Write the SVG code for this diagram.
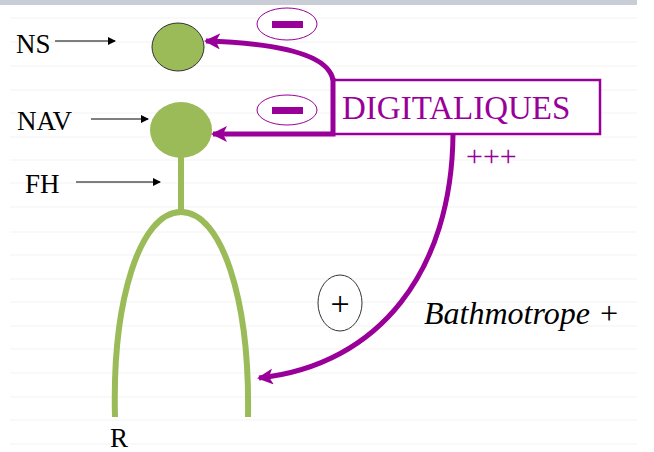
<svg xmlns="http://www.w3.org/2000/svg" width="654" height="452" viewBox="0 0 654 452">
<defs>
<style>
.rule{stroke:#f3f3f3;stroke-width:1}
.thin{stroke:#000;stroke-width:1;fill:none}
.conn{stroke:#990099;stroke-width:5;fill:none}
.green{stroke:#9bbb59;stroke-width:6;fill:none}
</style>
<marker id="ah" markerWidth="8" markerHeight="8" refX="7" refY="4" orient="auto" markerUnits="userSpaceOnUse"><path d="M0,0 L8,4 L0,8 Z" fill="#000"/></marker>
<marker id="ph" markerWidth="16" markerHeight="16" refX="14" refY="8" orient="auto" markerUnits="userSpaceOnUse"><path d="M0,0 L16,8 L0,16 L4,8 Z" fill="#990099"/></marker>
</defs>
<rect width="654" height="452" fill="#fff"/>
<rect x="0" y="0" width="637" height="5" fill="#c9cdd5"/>
<g id="rules">
<line class="rule" x1="10" y1="18" x2="637" y2="18"/>
<line class="rule" x1="10" y1="42" x2="637" y2="42"/>
<line class="rule" x1="10" y1="66" x2="637" y2="66"/>
<line class="rule" x1="10" y1="90" x2="637" y2="90"/>
<line class="rule" x1="10" y1="113" x2="637" y2="113"/>
<line class="rule" x1="10" y1="137" x2="637" y2="137"/>
<line class="rule" x1="10" y1="160" x2="637" y2="160"/>
<line class="rule" x1="10" y1="183" x2="637" y2="183"/>
<line class="rule" x1="10" y1="207" x2="637" y2="207"/>
<line class="rule" x1="10" y1="232" x2="637" y2="232"/>
<line class="rule" x1="10" y1="255" x2="637" y2="255"/>
<line class="rule" x1="10" y1="279" x2="637" y2="279"/>
<line class="rule" x1="10" y1="302" x2="637" y2="302"/>
<line class="rule" x1="10" y1="326" x2="637" y2="326"/>
<line class="rule" x1="10" y1="349" x2="637" y2="349"/>
<line class="rule" x1="10" y1="373" x2="637" y2="373"/>
<line class="rule" x1="10" y1="397" x2="637" y2="397"/>
<line class="rule" x1="10" y1="420" x2="637" y2="420"/>
<line class="rule" x1="10" y1="444" x2="637" y2="444"/>
</g>
<g id="NS">
<text x="16" y="53" font-family="Liberation Serif" font-size="27" fill="#000">NS</text>
<ellipse cx="178" cy="47" rx="26" ry="24" fill="#9bbb59" stroke="#333" stroke-width="1"/>
</g>
<g id="NAV">
<text x="17" y="130" font-family="Liberation Serif" font-size="27" fill="#000">NAV</text>
<ellipse cx="181" cy="130" rx="31" ry="28" fill="#9bbb59"/>
</g>
<g id="FH">
<text x="25" y="193" font-family="Liberation Serif" font-size="27" fill="#000">FH</text>
<line class="green" x1="181" y1="156" x2="181" y2="212"/>
<path class="green" d="M115,417 C112,300 140,212 181,212 C222,212 250,300 248,417"/>
</g>
<g id="R">
<text x="110" y="447" font-family="Liberation Serif" font-size="27" fill="#000">R</text>
</g>
<g id="DIGITALIQUES">
<rect x="333" y="80" width="267" height="54" fill="#fff" stroke="#990099" stroke-width="2.5"/>
<text x="342" y="119" font-family="Liberation Serif" font-size="33" fill="#990099">DIGITALIQUES</text>
<text x="466" y="166" font-family="Liberation Serif" font-size="30" fill="#990099">+++</text>
</g>
<g id="minus1">
<ellipse cx="287" cy="24" rx="30" ry="16" fill="#fff" stroke="#990099" stroke-width="1"/>
<rect x="272" y="21" width="31" height="7" fill="#990099"/>
</g>
<g id="minus2">
<ellipse cx="287" cy="110" rx="30" ry="15" fill="#fff" stroke="#990099" stroke-width="1"/>
<rect x="272" y="107" width="31" height="7" fill="#990099"/>
</g>
<g id="plus">
<ellipse cx="340" cy="303" rx="22" ry="28" fill="#fff" stroke="#333" stroke-width="1"/>
<text x="340" y="315" text-anchor="middle" font-family="Liberation Serif" font-size="34" fill="#000">+</text>
</g>
<g id="bathmotrope">
<text x="424" y="324" font-family="Liberation Serif" font-style="italic" font-size="32" fill="#000">Bathmotrope +</text>
</g>
<g id="connectors">
<line class="thin" x1="55" y1="41" x2="115" y2="41" marker-end="url(#ah)"/>
<line class="thin" x1="91" y1="119" x2="148" y2="119" marker-end="url(#ah)"/>
<line class="thin" x1="76" y1="182" x2="160" y2="182" marker-end="url(#ah)"/>
<path class="conn" d="M333,80 C328,52 270,43 206,41" marker-end="url(#ph)"/>
<path class="conn" d="M333,78 L333,134 L213,134" marker-end="url(#ph)"/>
<path class="conn" d="M453,134 C452,270 380,365 259,378" marker-end="url(#ph)"/>
</g>
</svg>
